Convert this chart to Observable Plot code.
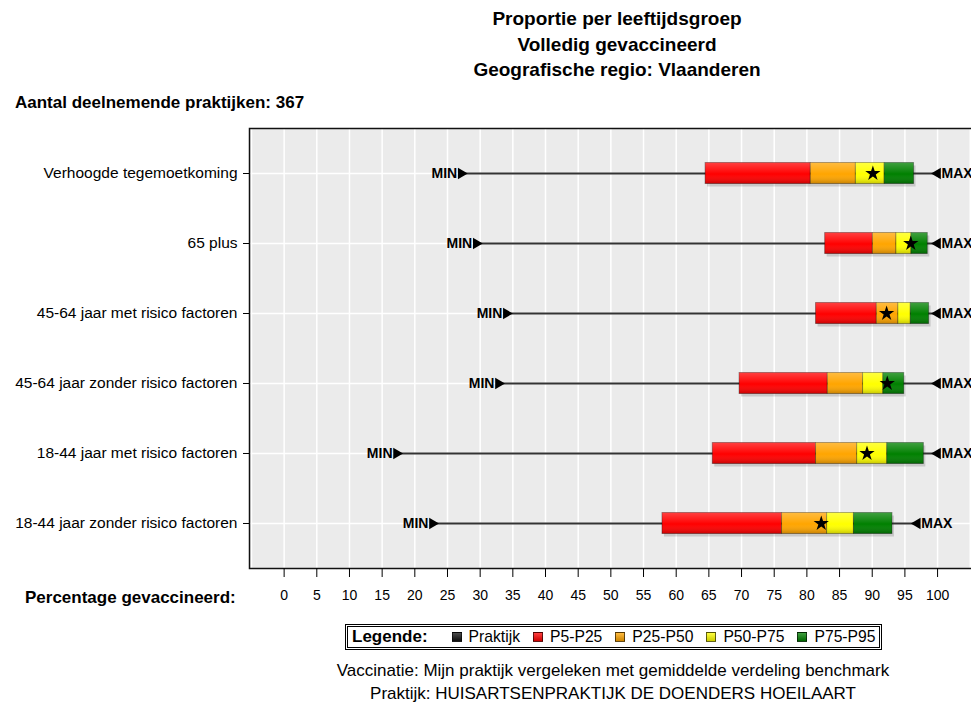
<!DOCTYPE html>
<html><head><meta charset="utf-8">
<script src="https://cdn.jsdelivr.net/npm/d3@7"></script>
<script src="https://cdn.jsdelivr.net/npm/@observablehq/plot@0.6"></script>
<style>
html,body{margin:0;padding:0;background:#fff;overflow:hidden;width:971px;height:708px;}
body{position:relative;font-family:"Liberation Sans",Arial,sans-serif;color:#000;}
#chart{position:absolute;left:0;top:0;width:990px;height:708px;}
#chart svg{max-width:none !important;width:990px !important;height:708px !important;}
.t{position:absolute;white-space:nowrap;line-height:1;}
.c{transform:translateX(-50%);}
.b{font-weight:bold;}
#legend{position:absolute;left:345px;top:624px;width:537px;height:26px;border:3px double #000;display:flex;align-items:center;font-size:15.7px;box-sizing:border-box;padding-left:4px;white-space:nowrap;}
#legend .lg{font-size:17px;margin-right:11px;}
#legend .sw{display:inline-block;width:8px;height:8px;border:1px solid rgba(0,0,0,0.6);margin:0 7px 0 0;background-image:linear-gradient(rgba(255,255,255,0.25),rgba(0,0,0,0.2));}
#legend .it{display:flex;align-items:center;margin-left:13px;}
</style></head><body>
<div id="chart"></div>
<div class="t c b" style="left:617px;top:9px;font-size:19px;">Proportie per leeftijdsgroep</div>
<div class="t c b" style="left:617px;top:35px;font-size:19px;">Volledig gevaccineerd</div>
<div class="t c b" style="left:617px;top:60px;font-size:19px;">Geografische regio: Vlaanderen</div>
<div class="t b" style="left:15px;top:94px;font-size:17px;">Aantal deelnemende praktijken: 367</div>
<div class="t b" style="left:25px;top:589px;font-size:17px;">Percentage gevaccineerd:</div>
<div id="legend"></div>
<div class="t c" style="left:613px;top:662px;font-size:17px;">Vaccinatie: Mijn praktijk vergeleken met gemiddelde verdeling benchmark</div>
<div class="t c" style="left:613px;top:685px;font-size:17px;">Praktijk: HUISARTSENPRAKTIJK DE DOENDERS HOEILAART</div>
<script>
const categories = ["Verhoogde tegemoetkoming","65 plus","45-64 jaar met risico factoren","45-64 jaar zonder risico factoren","18-44 jaar met risico factoren","18-44 jaar zonder risico factoren"];
const minVals  = [27.1, 29.4, 34.0, 32.8, 17.2, 22.7];
const p5Vals   = [64.5, 82.8, 81.4, 69.7, 65.6, 57.9];
const p25Vals  = [80.6, 90.1, 90.7, 83.2, 81.4, 76.2];
const p50Vals  = [87.5, 93.7, 94.0, 88.6, 87.7, 83.1];
const p75Vals  = [91.9, 96.0, 95.9, 91.7, 92.3, 87.2];
const p95Vals  = [96.4, 98.5, 98.7, 94.9, 97.9, 93.1];
const maxVals  = [100, 100, 100, 100, 100, 96.9];
const praktijkVals = [90.1, 95.9, 92.2, 92.3, 89.2, 82.2];
const segNames = ["P5-P25","P25-P50","P50-P75","P75-P95"];
const segColors = ["#ff0000","#ffa500","#ffff00","#008000"];
const xTicks = d3.range(0, 101, 5);
const gridTicks = d3.range(-5, 110, 5);
const legendLabels = ["Praktijk", ...segNames];
const legendColors = ["#111", ...segColors];

const rows = categories.map((cat, i) => ({cat, min: minVals[i], p5: p5Vals[i], p95: p95Vals[i], max: maxVals[i], prak: praktijkVals[i]}));
const segs = categories.flatMap((cat, i) => {
  const b = [p5Vals[i], p25Vals[i], p50Vals[i], p75Vals[i], p95Vals[i]];
  return segNames.map((seg, j) => ({cat, seg, x1: b[j], x2: b[j + 1]}));
});

const defs = () => {
  const d = d3.create("svg:defs");
  const g = d.append("linearGradient").attr("id", "gloss").attr("x1", 0).attr("y1", 0).attr("x2", 0).attr("y2", 1);
  [[0, "#fff", 0.25], [0.3, "#fff", 0.12], [0.55, "#fff", 0], [1, "#000", 0.22]].forEach(([o, c, a]) =>
    g.append("stop").attr("offset", o).attr("stop-color", c).attr("stop-opacity", a));
  return d.node();
};

const plot = Plot.plot({
  width: 990, height: 708,
  marginLeft: 249, marginRight: 0, marginTop: 128, marginBottom: 140,
  style: {fontFamily: '"Liberation Sans",Arial,sans-serif', fontSize: "15.5px", background: "transparent", overflow: "visible", maxWidth: "none"},
  x: {domain: [-5.3, 108.1]},
  y: {type: "band", domain: categories, paddingInner: 0.7, paddingOuter: 0.4929, round: false},
  color: {domain: segNames, range: segColors},
  marks: [
    defs,
    Plot.frame({fill: "#ebebeb"}),
    Plot.ruleX(gridTicks, {x: d => d, stroke: "white", strokeWidth: 1.5}),
    Plot.ruleY(categories, {y: d => d, stroke: "white", strokeWidth: 1.5}),
    Plot.frame({stroke: "#111", strokeWidth: 1.5}),
    Plot.barX(rows, {x1: "p5", x2: "p95", y: "cat", fill: "#000", fillOpacity: 0.15, dx: 2, dy: 3}),
    Plot.ruleY(rows, {y: "cat", x1: "min", x2: "max", stroke: "#333", strokeWidth: 2}),
    Plot.barX(segs, {x1: "x1", x2: "x2", y: "cat", fill: "seg", stroke: "#000", strokeOpacity: 0.35, strokeWidth: 1}),
    Plot.barX(rows, {x1: "p5", x2: "p95", y: "cat", fill: "url(#gloss)"}),
    Plot.dot(rows, {x: "prak", y: "cat", symbol: "star", r: 4.8, fill: "black"}),
    Plot.dot(rows, {x: "min", y: "cat", symbol: "triangle", r: 4.2, fill: "black", rotate: 90}),
    Plot.dot(rows, {x: "max", y: "cat", symbol: "triangle", r: 4.2, fill: "black", rotate: -90}),
    Plot.text(rows, {x: "min", y: "cat", text: () => "MIN", textAnchor: "end", dx: -4, fontWeight: "bold", fontSize: 14}),
    Plot.text(rows, {x: "max", y: "cat", text: () => "MAX", textAnchor: "start", dx: 4, fontWeight: "bold", fontSize: 14}),
    Plot.axisY({tickSize: 6, tickPadding: 6, fontSize: 15.5, label: null}),
    Plot.axisX({ticks: xTicks, tickSize: 9, tickPadding: 13, fontSize: 14, label: null})
  ]
});
document.getElementById("chart").appendChild(plot);

const leg = d3.select("#legend");
leg.append("span").attr("class", "b lg").text("Legende:");
legendLabels.forEach((l, i) => {
  const it = leg.append("span").attr("class", "it");
  it.append("span").attr("class", "sw").style("background-color", legendColors[i]);
  it.append("span").text(l);
});
</script>
</body></html>
